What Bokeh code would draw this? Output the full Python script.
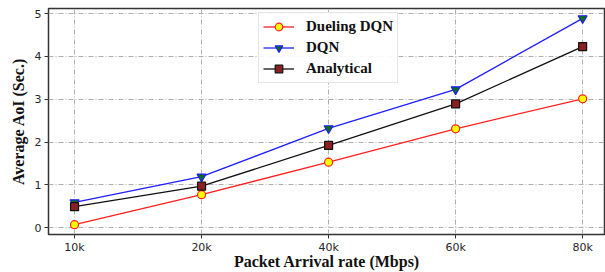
from bokeh.plotting import figure
from bokeh.models import Range1d, FixedTicker, Legend, LegendItem
from bokeh.embed import file_html
from bokeh.resources import INLINE

categories = ["10k", "20k", "40k", "60k", "80k"]
dueling_dqn = [0.07, 0.77, 1.53, 2.31, 3.01]
dqn = [0.59, 1.19, 2.32, 3.23, 4.89]
analytical = [0.49, 0.97, 1.92, 2.89, 4.23]
y_ticks = [0, 1, 2, 3, 4, 5]

xs = list(range(len(categories)))

p = figure(width=605, height=272, output_backend="svg", toolbar_location=None,
           x_range=Range1d(-0.205, 4.18), y_range=Range1d(-0.16, 5.12),
           min_border_left=48, min_border_right=0, min_border_top=8, min_border_bottom=38)
p.background_fill_color = "white"
p.border_fill_color = "white"
p.outline_line_color = "#333333"
p.outline_line_width = 1.5

for ax in (p.xaxis[0], p.yaxis[0]):
    ax.axis_line_color = None
    ax.major_tick_line_color = "#333333"
    ax.major_tick_in = 0
    ax.major_tick_out = 4
    ax.minor_tick_line_color = None
    ax.major_label_text_font = "DejaVu Sans"
    ax.major_label_text_font_size = "11px"
    ax.major_label_text_color = "#262626"
    ax.axis_label_text_font = "Liberation Serif"
    ax.axis_label_text_font_style = "bold"
    ax.axis_label_text_font_size = "16px"
    ax.axis_label_text_color = "#111111"

p.xaxis.ticker = FixedTicker(ticks=xs)
p.xaxis.major_label_overrides = {i: c for i, c in enumerate(categories)}
p.yaxis.ticker = FixedTicker(ticks=y_ticks)
p.xaxis.axis_label = "Packet Arrival rate (Mbps)"
p.yaxis.axis_label = "Average AoI (Sec.)"
p.xaxis.major_label_standoff = 2
p.xaxis.axis_label_standoff = -4
p.yaxis.major_label_standoff = 3
p.yaxis.axis_label_standoff = 5

for g in (p.xgrid[0], p.ygrid[0]):
    g.grid_line_color = "#b0b0b0"
    g.grid_line_dash = "5 2 1 2"
    g.grid_line_width = 1
p.xgrid.ticker = FixedTicker(ticks=xs)
p.ygrid.ticker = FixedTicker(ticks=y_ticks)

l1 = p.line(xs, dueling_dqn, line_color="#ff2020", line_width=1.3)
m1 = p.scatter(xs, dueling_dqn, marker="circle", size=8, fill_color="#ffff00", line_color="#ff2020", line_width=1.2)
l2 = p.line(xs, dqn, line_color="#1f1fff", line_width=1.3)
m2 = p.scatter(xs, dqn, marker="inverted_triangle", size=9, fill_color="#0a6e0a", line_color="#1f1fff", line_width=1.2)
l3 = p.line(xs, analytical, line_color="#111111", line_width=1.3)
m3 = p.scatter(xs, analytical, marker="square", size=8, fill_color="#8b2020", line_color="#111111", line_width=1.2)

legend = Legend(items=[
    LegendItem(label="Dueling DQN", renderers=[l1, m1]),
    LegendItem(label="DQN", renderers=[l2, m2]),
    LegendItem(label="Analytical", renderers=[l3, m3]),
], location=(210, 151))
legend.label_text_font = "Liberation Serif"
legend.label_text_font_style = "bold"
legend.label_text_font_size = "15px"
legend.label_text_color = "#111111"
legend.glyph_width = 31
legend.glyph_height = 19
legend.label_height = 19
legend.spacing = 2
legend.padding = 4
legend.margin = 0
legend.label_standoff = 12
legend.border_line_color = "#cccccc"
legend.border_line_width = 1
legend.background_fill_alpha = 0.9
p.add_layout(legend)

open("out.html", "w").write(file_html(p, INLINE))
